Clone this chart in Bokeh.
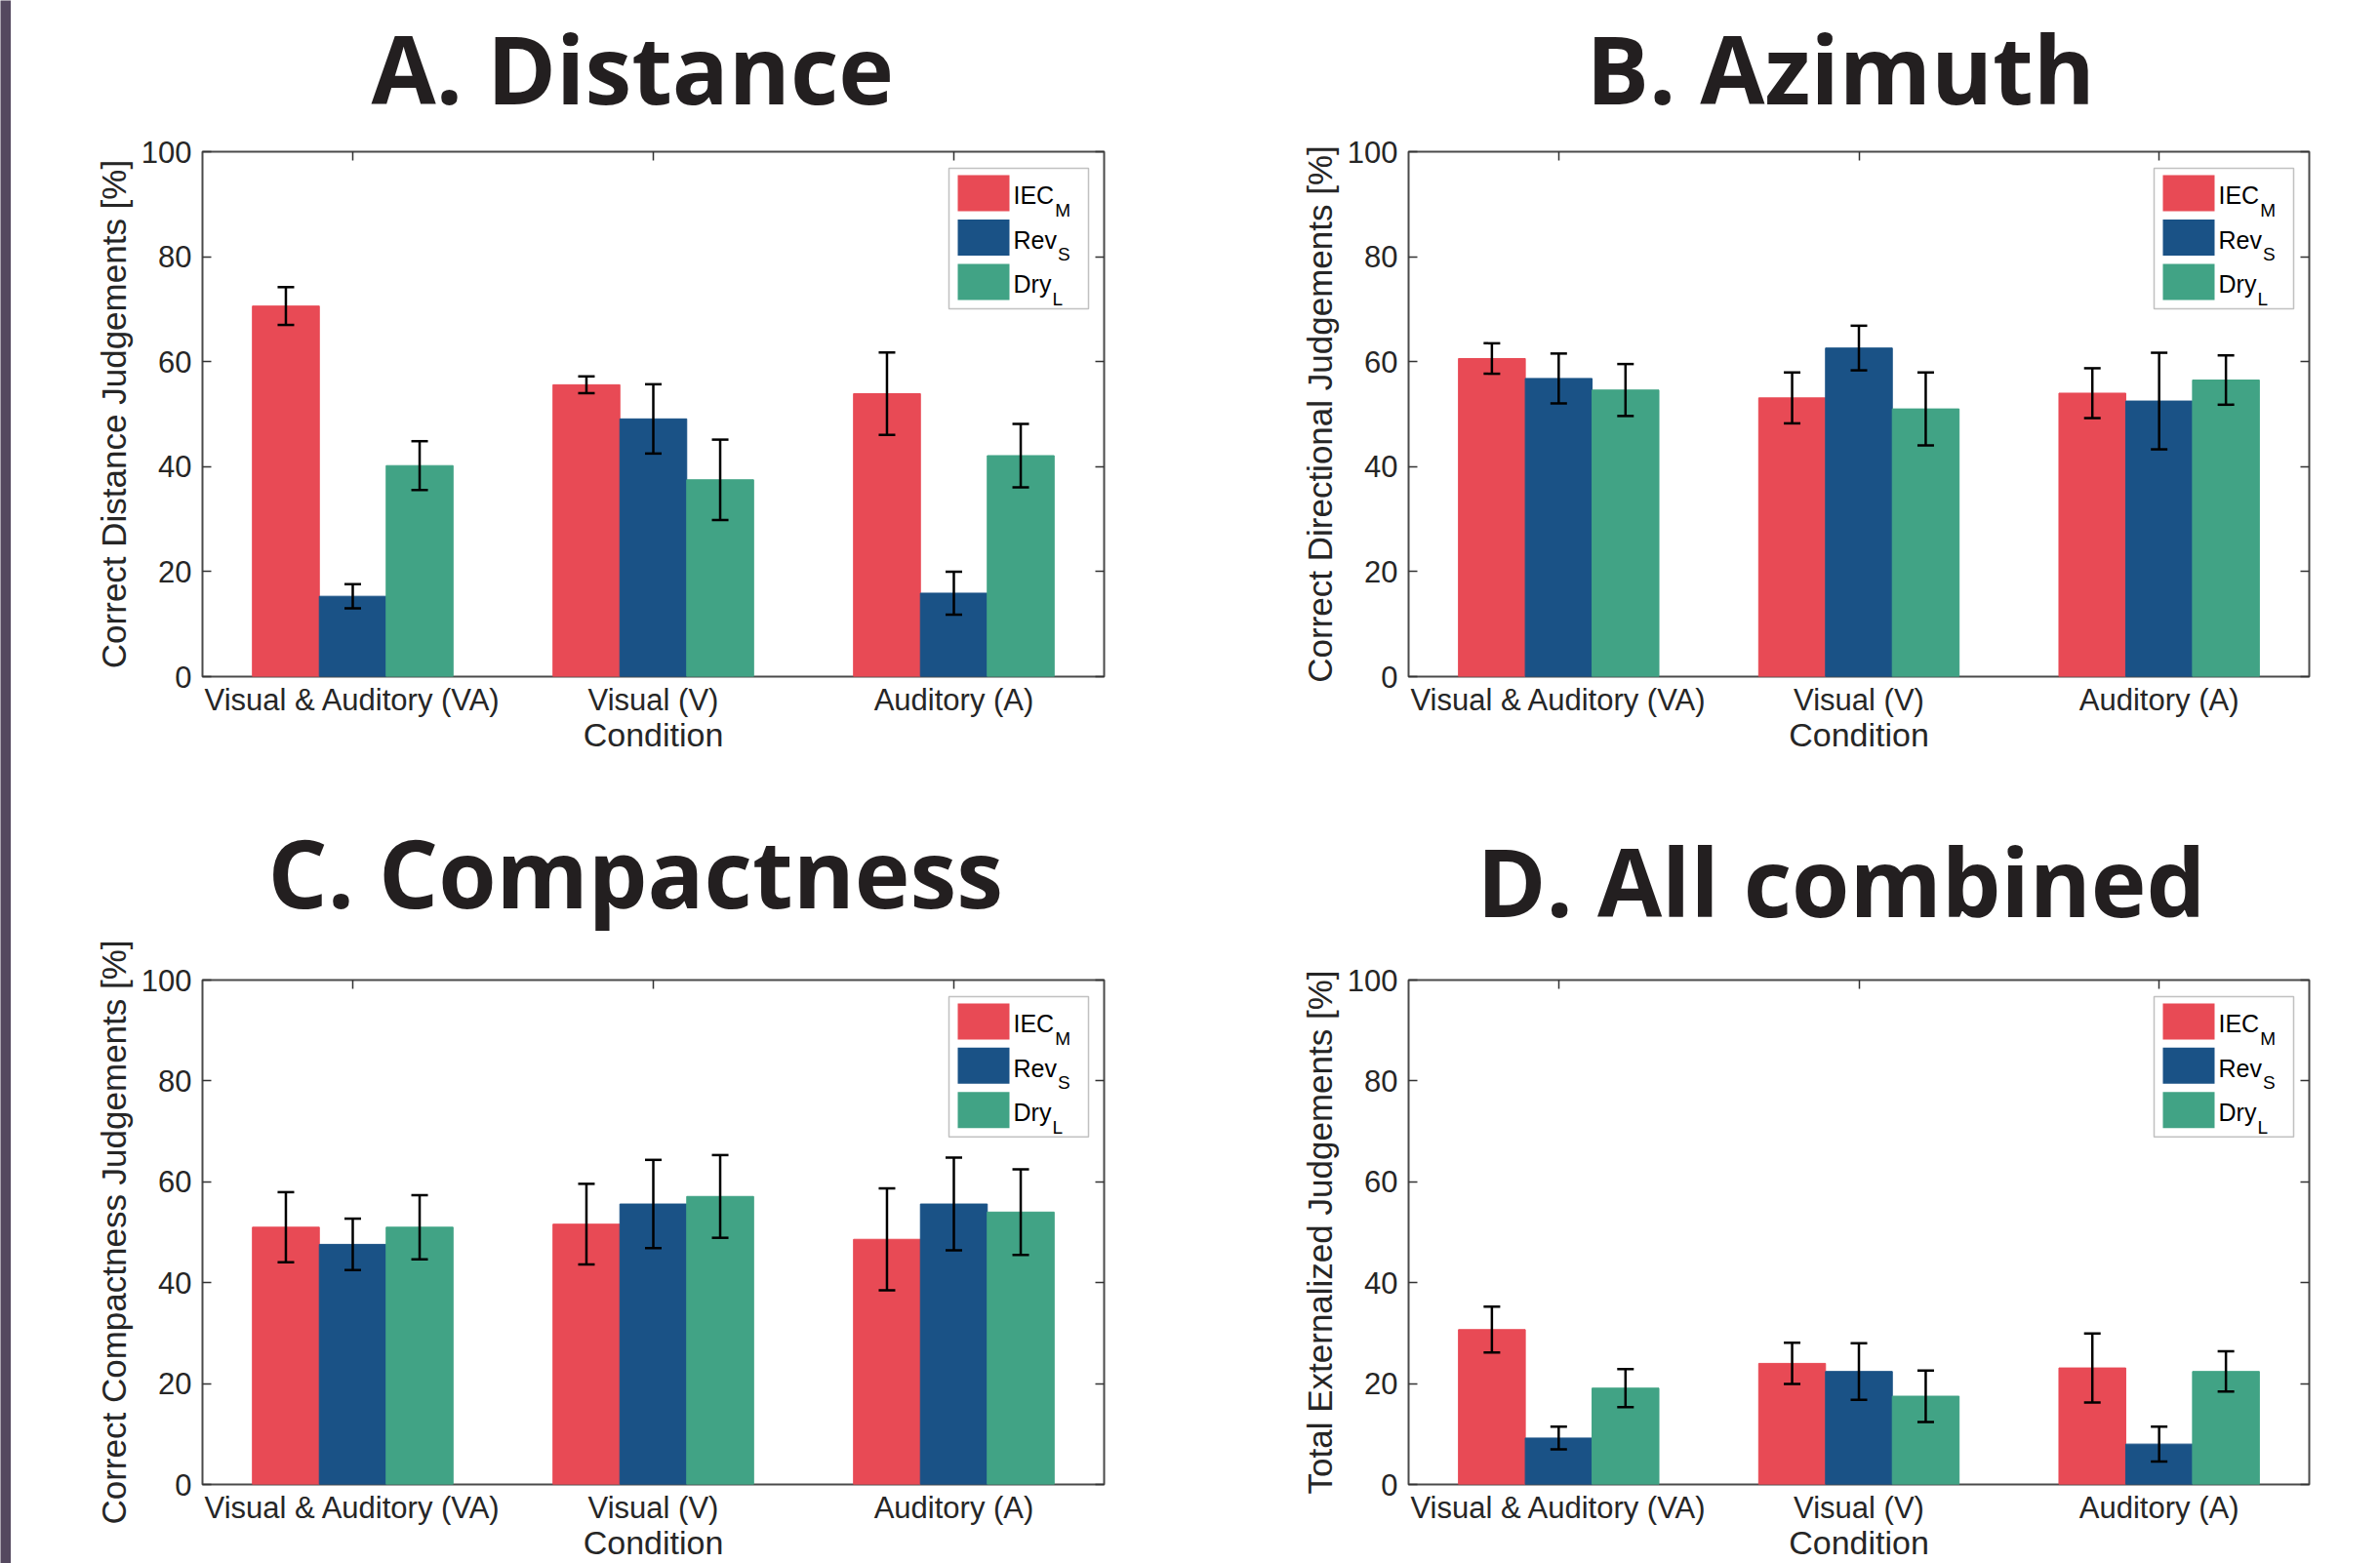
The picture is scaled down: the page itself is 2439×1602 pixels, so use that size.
from bokeh.plotting import figure
from bokeh.models import (Range1d, FixedTicker, LinearAxis, ColumnDataSource, Whisker,
                          TeeHead, Label, BoxAnnotation, CustomJSTickFormatter)
from bokeh.layouts import row, column
from bokeh.embed import file_html
from bokeh.resources import INLINE

# ---------------- data ----------------
categories = ["Visual & Auditory (VA)", "Visual (V)", "Auditory (A)"]
group_pos = [1, 2, 3]
series_names = ["IEC", "Rev", "Dry"]
series_subs = ["M", "S", "L"]
series_colors = ["#E84A55", "#1A5286", "#41A385"]
y_ticks = [0, 20, 40, 60, 80, 100]

titles = ["A. Distance", "B. Azimuth", "C. Compactness", "D. All combined"]
ylabels = ["Correct Distance Judgements [%]",
           "Correct Directional Judgements [%]",
           "Correct Compactness Judgements [%]",
           "Total Externalized Judgements [%]"]
xlabel = "Condition"

# A. Distance
dist_iec = [70.6, 55.6, 53.9]
dist_iec_err = [3.6, 1.6, 7.85]
dist_rev = [15.3, 49.1, 15.9]
dist_rev_err = [2.3, 6.6, 4.1]
dist_dry = [40.2, 37.5, 42.1]
dist_dry_err = [4.65, 7.65, 6.05]

# B. Azimuth
azi_iec = [60.6, 53.1, 54.0]
azi_iec_err = [2.9, 4.85, 4.75]
azi_rev = [56.8, 62.6, 52.5]
azi_rev_err = [4.75, 4.25, 9.2]
azi_dry = [54.6, 51.0, 56.5]
azi_dry_err = [4.95, 6.95, 4.7]

# C. Compactness
comp_iec = [51.0, 51.6, 48.6]
comp_iec_err = [6.95, 8.0, 10.1]
comp_rev = [47.6, 55.6, 55.6]
comp_rev_err = [5.1, 8.75, 9.2]
comp_dry = [51.0, 57.1, 54.0]
comp_dry_err = [6.35, 8.2, 8.5]

# D. All combined
all_iec = [30.7, 24.0, 23.1]
all_iec_err = [4.55, 4.1, 6.85]
all_rev = [9.2, 22.4, 8.0]
all_rev_err = [2.25, 5.6, 3.45]
all_dry = [19.1, 17.5, 22.4]
all_dry_err = [3.75, 5.1, 4.0]

panels_means = [[dist_iec, dist_rev, dist_dry], [azi_iec, azi_rev, azi_dry],
                [comp_iec, comp_rev, comp_dry], [all_iec, all_rev, all_dry]]
panels_errs = [[dist_iec_err, dist_rev_err, dist_dry_err],
               [azi_iec_err, azi_rev_err, azi_dry_err],
               [comp_iec_err, comp_rev_err, comp_dry_err],
               [all_iec_err, all_rev_err, all_dry_err]]

# ---------------- style ----------------
TICK_FONT = "Liberation Sans"
TITLE_FONT = "Open Sans"
TEXT_COLOR = "#262626"
BAR_W = 0.2225
ARIAL_W = {"I": .278, "E": .667, "C": .722, "R": .722, "e": .556, "v": .5,
           "D": .722, "r": .333, "y": .5}


def make_panel(k, width, height, b_left, b_right, b_top, b_bottom,
               title_offset, title_standoff, shift_up):
    p = figure(width=width, height=height, x_range=Range1d(0.5, 3.5),
               y_range=Range1d(0, 100), toolbar_location=None, output_backend="svg",
               min_border_left=b_left, min_border_right=b_right,
               min_border_top=b_top, min_border_bottom=b_bottom)
    p.margin = (-shift_up, 0, 0, 0)
    p.xgrid.visible = False
    p.ygrid.visible = False
    p.background_fill_color = "white"
    p.border_fill_color = None
    p.outline_line_color = "#4a4a4a"
    p.outline_line_width = 2

    frame_w = width - b_left - b_right
    frame_h = height - b_top - b_bottom

    # bars + error bars
    means = panels_means[k]
    errs = panels_errs[k]
    for i in range(3):
        off = (i - 1) * BAR_W
        xs = [g + off for g in group_pos]
        src = ColumnDataSource(dict(x=xs, top=means[i],
                                    lower=[m - e for m, e in zip(means[i], errs[i])],
                                    upper=[m + e for m, e in zip(means[i], errs[i])]))
        p.vbar(x="x", top="top", bottom=0, width=BAR_W, source=src,
               fill_color=series_colors[i], line_color=series_colors[i], line_width=1)
        w = Whisker(base="x", lower="lower", upper="upper", source=src,
                    dimension="height", line_color="black", line_width=2.5,
                    upper_head=TeeHead(size=17, line_width=2.5, line_color="black"),
                    lower_head=TeeHead(size=17, line_width=2.5, line_color="black"),
                    level="annotation")
        p.add_layout(w)

    # axes
    xa = p.xaxis[0]
    xa.ticker = FixedTicker(ticks=group_pos)
    xa.major_label_overrides = {g: c for g, c in zip(group_pos, categories)}
    xa.axis_label = xlabel
    xa.axis_label_standoff = -4
    xa.major_label_standoff = 6
    ya = p.yaxis[0]
    ya.ticker = FixedTicker(ticks=y_ticks)
    ya.axis_label = ylabels[k]
    ya.axis_label_standoff = 6
    ya.major_label_standoff = 11
    for ax in [xa, ya]:
        ax.axis_label_text_font = TICK_FONT
        ax.axis_label_text_font_style = "normal"
        ax.axis_label_text_color = TEXT_COLOR
    ya.axis_label_text_font_size = "35px"
    xa.axis_label_text_font_size = "34px"

    empty = CustomJSTickFormatter(code="return ''")
    ra = LinearAxis(ticker=FixedTicker(ticks=y_ticks), formatter=empty)
    ta = LinearAxis(ticker=FixedTicker(ticks=group_pos), formatter=empty)
    p.add_layout(ra, "right")
    p.add_layout(ta, "above")
    for ax in [xa, ya, ra, ta]:
        ax.major_tick_in = 9
        ax.major_tick_out = 0
        ax.minor_tick_line_color = None
        ax.axis_line_color = None
        ax.major_tick_line_color = "#333333"
        ax.major_tick_line_width = 1.5
        ax.major_label_text_font = TICK_FONT
        ax.major_label_text_font_size = "31px"
        ax.major_label_text_color = TEXT_COLOR
    xa.major_tick_in = 0  # hidden behind the bars in the original

    # title
    p.title.text = titles[k]
    p.title.align = "left"
    p.title.offset = title_offset
    p.title.standoff = title_standoff
    p.title.text_font = TITLE_FONT
    p.title.text_font_style = "bold"
    p.title.text_font_size = "96px"
    p.title.text_color = "#231f20"

    # legend (drawn manually so the labels can carry subscripts)
    fx = 3.0 / frame_w
    fy = 100.0 / frame_h
    p.add_layout(BoxAnnotation(left=3.5 - 159 * fx, right=3.5 - 16 * fx,
                               top=100 - 17 * fy, bottom=100 - 161 * fy,
                               fill_color="white", fill_alpha=1, line_color="#333333",
                               line_width=1.5, level="annotation"))
    for i in range(3):
        t = 24 + 45.5 * i
        p.add_layout(BoxAnnotation(left=3.5 - 150 * fx, right=3.5 - 97 * fx,
                                   top=100 - t * fy, bottom=100 - (t + 37) * fy,
                                   fill_color=series_colors[i], fill_alpha=1,
                                   line_color=None, level="annotation"))
        base = t + 20.5
        p.add_layout(Label(x=3.5, y=100, x_offset=-93, y_offset=-base,
                           text=series_names[i], text_font=TICK_FONT,
                           text_font_size="25px", text_color="black",
                           text_baseline="alphabetic"))
        wname = sum(ARIAL_W.get(ch, 0.55) for ch in series_names[i]) * 25
        p.add_layout(Label(x=3.5, y=100, x_offset=-93 + wname + 1, y_offset=-(base + 15),
                           text=series_subs[i], text_font=TICK_FONT,
                           text_font_size="19px", text_color="black",
                           text_baseline="alphabetic"))
    return p


SHIFT = 60
pA = make_panel(0, 1289, 800 + SHIFT, 196, 169, 155 + SHIFT, 107, 173, 42, SHIFT)
pC = make_panel(2, 1289, 802 + SHIFT, 196, 169, 204 + SHIFT, 80, 67, 92, SHIFT)
pB = make_panel(1, 1139, 800 + SHIFT, 143, 73, 155 + SHIFT, 107, 182, 42, SHIFT)
pD = make_panel(3, 1139, 802 + SHIFT, 143, 73, 204 + SHIFT, 80, 70, 74, SHIFT)

stripe = figure(width=11, height=1602, toolbar_location=None, output_backend="svg",
                x_axis_location=None, y_axis_location=None, min_border=0)
stripe.background_fill_color = "#54485F"
stripe.border_fill_color = "#54485F"
stripe.outline_line_color = None
stripe.xgrid.visible = False
stripe.ygrid.visible = False

layout = row(stripe, column(pA, pC), column(pB, pD))
open("out.html", "w").write(file_html(layout, INLINE))
